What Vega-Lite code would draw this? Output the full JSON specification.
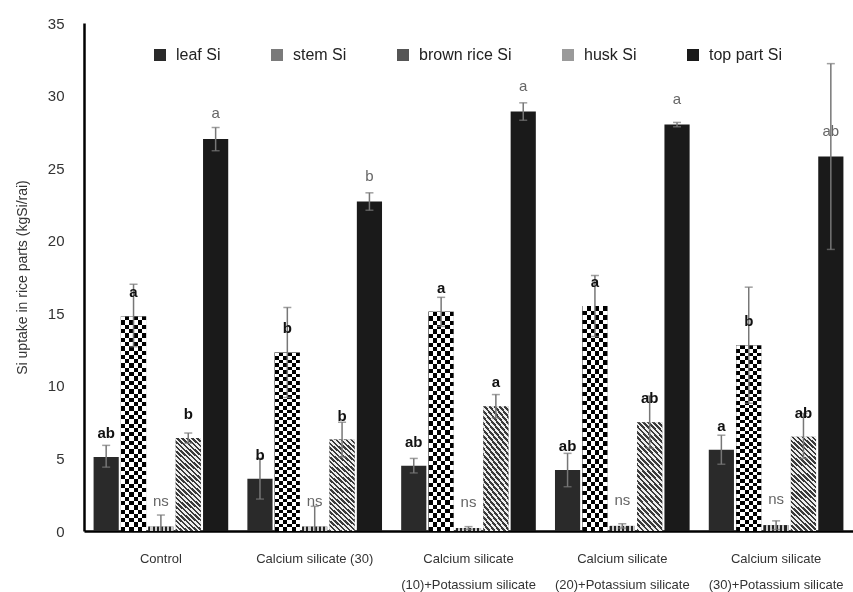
{
  "$schema": "https://vega.github.io/schema/vega-lite/v6.json",
  "width": 769,
  "height": 508,
  "autosize": {"type": "none"},
  "padding": {"left": 84, "top": 23, "right": 0, "bottom": 61},
  "config": {"font": "Liberation Sans", "view": {"stroke": null}},
  "data": {"values": [
    {"g": "Control", "p": "leaf Si", "v": 5.1, "lo": 4.4, "hi": 5.9, "s": "ab"},
    {"g": "Control", "p": "stem Si", "v": 14.8, "lo": 12.7, "hi": 17.0, "s": "a"},
    {"g": "Control", "p": "brown rice Si", "v": 0.3, "lo": 0.0, "hi": 1.1, "s": "ns"},
    {"g": "Control", "p": "husk Si", "v": 6.4, "lo": 6.05, "hi": 6.75, "s": "b"},
    {"g": "Control", "p": "top part Si", "v": 27.0, "lo": 26.2, "hi": 27.8, "s": "a"},
    {"g": "Calcium silicate (30)", "p": "leaf Si", "v": 3.6, "lo": 2.2, "hi": 5.0, "s": "b"},
    {"g": "Calcium silicate (30)", "p": "stem Si", "v": 12.3, "lo": 9.2, "hi": 15.4, "s": "b"},
    {"g": "Calcium silicate (30)", "p": "brown rice Si", "v": 0.3, "lo": 0.0, "hi": 1.7, "s": "ns"},
    {"g": "Calcium silicate (30)", "p": "husk Si", "v": 6.3, "lo": 5.1, "hi": 7.5, "s": "b"},
    {"g": "Calcium silicate (30)", "p": "top part Si", "v": 22.7, "lo": 22.1, "hi": 23.3, "s": "b"},
    {"g": "Calcium silicate (10)+Potassium silicate", "p": "leaf Si", "v": 4.5, "lo": 4.0, "hi": 5.0, "s": "ab"},
    {"g": "Calcium silicate (10)+Potassium silicate", "p": "stem Si", "v": 15.1, "lo": 14.1, "hi": 16.1, "s": "a"},
    {"g": "Calcium silicate (10)+Potassium silicate", "p": "brown rice Si", "v": 0.2, "lo": 0.1, "hi": 0.3, "s": "ns"},
    {"g": "Calcium silicate (10)+Potassium silicate", "p": "husk Si", "v": 8.6, "lo": 7.8, "hi": 9.4, "s": "a"},
    {"g": "Calcium silicate (10)+Potassium silicate", "p": "top part Si", "v": 28.9, "lo": 28.3, "hi": 29.5, "s": "a"},
    {"g": "Calcium silicate (20)+Potassium silicate", "p": "leaf Si", "v": 4.2, "lo": 3.05, "hi": 5.35, "s": "ab"},
    {"g": "Calcium silicate (20)+Potassium silicate", "p": "stem Si", "v": 15.5, "lo": 13.4, "hi": 17.6, "s": "a"},
    {"g": "Calcium silicate (20)+Potassium silicate", "p": "brown rice Si", "v": 0.35, "lo": 0.2, "hi": 0.5, "s": "ns"},
    {"g": "Calcium silicate (20)+Potassium silicate", "p": "husk Si", "v": 7.5, "lo": 5.7, "hi": 9.3, "s": "ab"},
    {"g": "Calcium silicate (20)+Potassium silicate", "p": "top part Si", "v": 28.0, "lo": 27.85, "hi": 28.15, "s": "a"},
    {"g": "Calcium silicate (30)+Potassium silicate", "p": "leaf Si", "v": 5.6, "lo": 4.6, "hi": 6.6, "s": "a"},
    {"g": "Calcium silicate (30)+Potassium silicate", "p": "stem Si", "v": 12.8, "lo": 8.8, "hi": 16.8, "s": "b"},
    {"g": "Calcium silicate (30)+Potassium silicate", "p": "brown rice Si", "v": 0.4, "lo": 0.1, "hi": 0.7, "s": "ns"},
    {"g": "Calcium silicate (30)+Potassium silicate", "p": "husk Si", "v": 6.5, "lo": 5.0, "hi": 8.1, "s": "ab"},
    {"g": "Calcium silicate (30)+Potassium silicate", "p": "top part Si", "v": 25.8, "lo": 19.4, "hi": 32.2, "s": "ab"}
  ]},
  "encoding": {
    "x": {"field": "g", "type": "nominal",
      "scale": {"domain": ["Control", "Calcium silicate (30)", "Calcium silicate (10)+Potassium silicate", "Calcium silicate (20)+Potassium silicate", "Calcium silicate (30)+Potassium silicate"], "paddingInner": 0, "paddingOuter": 0},
      "axis": {"title": null, "labelAngle": 0, "ticks": false, "domainColor": "#000", "domainWidth": 2.5, "labelFontSize": 13, "labelColor": "#333", "labelPadding": 21, "labelLineHeight": 26, "labelLimit": 0, "labelOverlap": false,
        "labelExpr": "indexof(datum.label, '+') > 0 ? ['Calcium silicate', substring(datum.label, 17)] : datum.label"}},
    "xOffset": {"field": "p", "type": "nominal",
      "scale": {"domain": ["leaf Si", "stem Si", "brown rice Si", "husk Si", "top part Si"], "paddingInner": 0.08, "paddingOuter": 0.35}}
  },
  "layer": [
    {
      "mark": {"type": "bar"},
      "encoding": {
        "y": {"field": "v", "type": "quantitative",
          "scale": {"domain": [0, 35], "nice": false},
          "axis": {"values": [0, 5, 10, 15, 20, 25, 30, 35], "grid": false, "ticks": false, "domainColor": "#000", "domainWidth": 2.5, "labelFontSize": 15, "labelColor": "#333", "labelPadding": 20,
            "title": "Si uptake in rice parts (kgSi/rai)", "titleFontSize": 14, "titleFontWeight": "normal", "titleColor": "#333", "titlePadding": 18}},
        "color": {"field": "p", "type": "nominal",
          "scale": {"domain": ["leaf Si", "stem Si", "brown rice Si", "husk Si", "top part Si"], "range": ["#2a2a2a", "#7a7a7a", "#555555", "#9a9a9a", "#1a1a1a"]},
          "legend": {"title": null, "orient": "none", "legendX": 68, "legendY": 24, "direction": "horizontal", "columns": 5, "columnPadding": 48, "symbolType": "square", "symbolSize": 144, "symbolStrokeWidth": 0, "labelFontSize": 16, "labelColor": "#222", "labelOffset": 8}}
      }
    },
    {
      "transform": [{"filter": "datum.p == 'stem Si'"}],
      "mark": {"type": "bar", "fill": {"gradient": "linear", "x1": 0, "y1": 0, "x2": 1, "y2": 0, "stops": [
        {"offset": 0, "color": "#000"}, {"offset": 0.1667, "color": "#000"}, {"offset": 0.1667, "color": "#fff"}, {"offset": 0.3333, "color": "#fff"},
        {"offset": 0.3333, "color": "#000"}, {"offset": 0.5, "color": "#000"}, {"offset": 0.5, "color": "#fff"}, {"offset": 0.6667, "color": "#fff"},
        {"offset": 0.6667, "color": "#000"}, {"offset": 0.8333, "color": "#000"}, {"offset": 0.8333, "color": "#fff"}, {"offset": 1, "color": "#fff"}]}},
      "encoding": {"y": {"field": "v", "type": "quantitative"}}
    },
    {
      "transform": [{"filter": "datum.p == 'stem Si'"}],
      "mark": {"type": "bar", "blend": "difference", "fill": {"gradient": "linear", "x1": 0, "y1": 0, "x2": 0, "y2": 1, "stops": [
        {"offset": 0, "color": "#fff"}, {"offset": 0.02, "color": "#fff"}, {"offset": 0.02, "color": "#000"}, {"offset": 0.04, "color": "#000"},
        {"offset": 0.04, "color": "#fff"}, {"offset": 0.06, "color": "#fff"}, {"offset": 0.06, "color": "#000"}, {"offset": 0.08, "color": "#000"},
        {"offset": 0.08, "color": "#fff"}, {"offset": 0.10, "color": "#fff"}, {"offset": 0.10, "color": "#000"}, {"offset": 0.12, "color": "#000"},
        {"offset": 0.12, "color": "#fff"}, {"offset": 0.14, "color": "#fff"}, {"offset": 0.14, "color": "#000"}, {"offset": 0.16, "color": "#000"},
        {"offset": 0.16, "color": "#fff"}, {"offset": 0.18, "color": "#fff"}, {"offset": 0.18, "color": "#000"}, {"offset": 0.20, "color": "#000"},
        {"offset": 0.20, "color": "#fff"}, {"offset": 0.22, "color": "#fff"}, {"offset": 0.22, "color": "#000"}, {"offset": 0.24, "color": "#000"},
        {"offset": 0.24, "color": "#fff"}, {"offset": 0.26, "color": "#fff"}, {"offset": 0.26, "color": "#000"}, {"offset": 0.28, "color": "#000"},
        {"offset": 0.28, "color": "#fff"}, {"offset": 0.30, "color": "#fff"}, {"offset": 0.30, "color": "#000"}, {"offset": 0.32, "color": "#000"},
        {"offset": 0.32, "color": "#fff"}, {"offset": 0.34, "color": "#fff"}, {"offset": 0.34, "color": "#000"}, {"offset": 0.36, "color": "#000"},
        {"offset": 0.36, "color": "#fff"}, {"offset": 0.38, "color": "#fff"}, {"offset": 0.38, "color": "#000"}, {"offset": 0.40, "color": "#000"},
        {"offset": 0.40, "color": "#fff"}, {"offset": 0.42, "color": "#fff"}, {"offset": 0.42, "color": "#000"}, {"offset": 0.44, "color": "#000"},
        {"offset": 0.44, "color": "#fff"}, {"offset": 0.46, "color": "#fff"}, {"offset": 0.46, "color": "#000"}, {"offset": 0.48, "color": "#000"},
        {"offset": 0.48, "color": "#fff"}, {"offset": 0.50, "color": "#fff"}, {"offset": 0.50, "color": "#000"}, {"offset": 0.52, "color": "#000"},
        {"offset": 0.52, "color": "#fff"}, {"offset": 0.54, "color": "#fff"}, {"offset": 0.54, "color": "#000"}, {"offset": 0.56, "color": "#000"},
        {"offset": 0.56, "color": "#fff"}, {"offset": 0.58, "color": "#fff"}, {"offset": 0.58, "color": "#000"}, {"offset": 0.60, "color": "#000"},
        {"offset": 0.60, "color": "#fff"}, {"offset": 0.62, "color": "#fff"}, {"offset": 0.62, "color": "#000"}, {"offset": 0.64, "color": "#000"},
        {"offset": 0.64, "color": "#fff"}, {"offset": 0.66, "color": "#fff"}, {"offset": 0.66, "color": "#000"}, {"offset": 0.68, "color": "#000"},
        {"offset": 0.68, "color": "#fff"}, {"offset": 0.70, "color": "#fff"}, {"offset": 0.70, "color": "#000"}, {"offset": 0.72, "color": "#000"},
        {"offset": 0.72, "color": "#fff"}, {"offset": 0.74, "color": "#fff"}, {"offset": 0.74, "color": "#000"}, {"offset": 0.76, "color": "#000"},
        {"offset": 0.76, "color": "#fff"}, {"offset": 0.78, "color": "#fff"}, {"offset": 0.78, "color": "#000"}, {"offset": 0.80, "color": "#000"},
        {"offset": 0.80, "color": "#fff"}, {"offset": 0.82, "color": "#fff"}, {"offset": 0.82, "color": "#000"}, {"offset": 0.84, "color": "#000"},
        {"offset": 0.84, "color": "#fff"}, {"offset": 0.86, "color": "#fff"}, {"offset": 0.86, "color": "#000"}, {"offset": 0.88, "color": "#000"},
        {"offset": 0.88, "color": "#fff"}, {"offset": 0.90, "color": "#fff"}, {"offset": 0.90, "color": "#000"}, {"offset": 0.92, "color": "#000"},
        {"offset": 0.92, "color": "#fff"}, {"offset": 0.94, "color": "#fff"}, {"offset": 0.94, "color": "#000"}, {"offset": 0.96, "color": "#000"},
        {"offset": 0.96, "color": "#fff"}, {"offset": 0.98, "color": "#fff"}, {"offset": 0.98, "color": "#000"}, {"offset": 1, "color": "#000"}]}},
      "encoding": {"y": {"field": "v", "type": "quantitative"}}
    },
    {
      "transform": [{"filter": "datum.p == 'brown rice Si'"}],
      "mark": {"type": "bar", "fill": {"gradient": "linear", "x1": 0, "y1": 0, "x2": 1, "y2": 0, "stops": [
        {"offset": 0, "color": "#222"}, {"offset": 0.0833, "color": "#222"}, {"offset": 0.0833, "color": "#ccc"}, {"offset": 0.1667, "color": "#ccc"},
        {"offset": 0.1667, "color": "#222"}, {"offset": 0.25, "color": "#222"}, {"offset": 0.25, "color": "#ccc"}, {"offset": 0.3333, "color": "#ccc"},
        {"offset": 0.3333, "color": "#222"}, {"offset": 0.4167, "color": "#222"}, {"offset": 0.4167, "color": "#ccc"}, {"offset": 0.5, "color": "#ccc"},
        {"offset": 0.5, "color": "#222"}, {"offset": 0.5833, "color": "#222"}, {"offset": 0.5833, "color": "#ccc"}, {"offset": 0.6667, "color": "#ccc"},
        {"offset": 0.6667, "color": "#222"}, {"offset": 0.75, "color": "#222"}, {"offset": 0.75, "color": "#ccc"}, {"offset": 0.8333, "color": "#ccc"},
        {"offset": 0.8333, "color": "#222"}, {"offset": 0.9167, "color": "#222"}, {"offset": 0.9167, "color": "#ccc"}, {"offset": 1, "color": "#ccc"}]}},
      "encoding": {"y": {"field": "v", "type": "quantitative"}}
    },
    {
      "transform": [{"filter": "datum.p == 'husk Si'"}],
      "mark": {"type": "bar", "fill": {"gradient": "linear", "x1": 0, "y1": 1, "x2": 0.294, "y2": -0.176, "stops": [
        {"offset": 0, "color": "#3a3a3a"}, {"offset": 0.02, "color": "#3a3a3a"}, {"offset": 0.02, "color": "#eee"}, {"offset": 0.04, "color": "#eee"},
        {"offset": 0.04, "color": "#3a3a3a"}, {"offset": 0.06, "color": "#3a3a3a"}, {"offset": 0.06, "color": "#eee"}, {"offset": 0.08, "color": "#eee"},
        {"offset": 0.08, "color": "#3a3a3a"}, {"offset": 0.10, "color": "#3a3a3a"}, {"offset": 0.10, "color": "#eee"}, {"offset": 0.12, "color": "#eee"},
        {"offset": 0.12, "color": "#3a3a3a"}, {"offset": 0.14, "color": "#3a3a3a"}, {"offset": 0.14, "color": "#eee"}, {"offset": 0.16, "color": "#eee"},
        {"offset": 0.16, "color": "#3a3a3a"}, {"offset": 0.18, "color": "#3a3a3a"}, {"offset": 0.18, "color": "#eee"}, {"offset": 0.20, "color": "#eee"},
        {"offset": 0.20, "color": "#3a3a3a"}, {"offset": 0.22, "color": "#3a3a3a"}, {"offset": 0.22, "color": "#eee"}, {"offset": 0.24, "color": "#eee"},
        {"offset": 0.24, "color": "#3a3a3a"}, {"offset": 0.26, "color": "#3a3a3a"}, {"offset": 0.26, "color": "#eee"}, {"offset": 0.28, "color": "#eee"},
        {"offset": 0.28, "color": "#3a3a3a"}, {"offset": 0.30, "color": "#3a3a3a"}, {"offset": 0.30, "color": "#eee"}, {"offset": 0.32, "color": "#eee"},
        {"offset": 0.32, "color": "#3a3a3a"}, {"offset": 0.34, "color": "#3a3a3a"}, {"offset": 0.34, "color": "#eee"}, {"offset": 0.36, "color": "#eee"},
        {"offset": 0.36, "color": "#3a3a3a"}, {"offset": 0.38, "color": "#3a3a3a"}, {"offset": 0.38, "color": "#eee"}, {"offset": 0.40, "color": "#eee"},
        {"offset": 0.40, "color": "#3a3a3a"}, {"offset": 0.42, "color": "#3a3a3a"}, {"offset": 0.42, "color": "#eee"}, {"offset": 0.44, "color": "#eee"},
        {"offset": 0.44, "color": "#3a3a3a"}, {"offset": 0.46, "color": "#3a3a3a"}, {"offset": 0.46, "color": "#eee"}, {"offset": 0.48, "color": "#eee"},
        {"offset": 0.48, "color": "#3a3a3a"}, {"offset": 0.50, "color": "#3a3a3a"}, {"offset": 0.50, "color": "#eee"}, {"offset": 0.52, "color": "#eee"},
        {"offset": 0.52, "color": "#3a3a3a"}, {"offset": 0.54, "color": "#3a3a3a"}, {"offset": 0.54, "color": "#eee"}, {"offset": 0.56, "color": "#eee"},
        {"offset": 0.56, "color": "#3a3a3a"}, {"offset": 0.58, "color": "#3a3a3a"}, {"offset": 0.58, "color": "#eee"}, {"offset": 0.60, "color": "#eee"},
        {"offset": 0.60, "color": "#3a3a3a"}, {"offset": 0.62, "color": "#3a3a3a"}, {"offset": 0.62, "color": "#eee"}, {"offset": 0.64, "color": "#eee"},
        {"offset": 0.64, "color": "#3a3a3a"}, {"offset": 0.66, "color": "#3a3a3a"}, {"offset": 0.66, "color": "#eee"}, {"offset": 0.68, "color": "#eee"},
        {"offset": 0.68, "color": "#3a3a3a"}, {"offset": 0.70, "color": "#3a3a3a"}, {"offset": 0.70, "color": "#eee"}, {"offset": 0.72, "color": "#eee"},
        {"offset": 0.72, "color": "#3a3a3a"}, {"offset": 0.74, "color": "#3a3a3a"}, {"offset": 0.74, "color": "#eee"}, {"offset": 0.76, "color": "#eee"},
        {"offset": 0.76, "color": "#3a3a3a"}, {"offset": 0.78, "color": "#3a3a3a"}, {"offset": 0.78, "color": "#eee"}, {"offset": 0.80, "color": "#eee"},
        {"offset": 0.80, "color": "#3a3a3a"}, {"offset": 0.82, "color": "#3a3a3a"}, {"offset": 0.82, "color": "#eee"}, {"offset": 0.84, "color": "#eee"},
        {"offset": 0.84, "color": "#3a3a3a"}, {"offset": 0.86, "color": "#3a3a3a"}, {"offset": 0.86, "color": "#eee"}, {"offset": 0.88, "color": "#eee"},
        {"offset": 0.88, "color": "#3a3a3a"}, {"offset": 0.90, "color": "#3a3a3a"}, {"offset": 0.90, "color": "#eee"}, {"offset": 0.92, "color": "#eee"},
        {"offset": 0.92, "color": "#3a3a3a"}, {"offset": 0.94, "color": "#3a3a3a"}, {"offset": 0.94, "color": "#eee"}, {"offset": 0.96, "color": "#eee"},
        {"offset": 0.96, "color": "#3a3a3a"}, {"offset": 0.98, "color": "#3a3a3a"}, {"offset": 0.98, "color": "#eee"}, {"offset": 1, "color": "#eee"}]}},
      "encoding": {"y": {"field": "v", "type": "quantitative"}}
    },
    {
      "mark": {"type": "rule", "color": "#777", "strokeWidth": 1.5},
      "encoding": {"y": {"field": "lo", "type": "quantitative"}, "y2": {"field": "hi"}}
    },
    {
      "mark": {"type": "tick", "color": "#777", "size": 8, "thickness": 1.5},
      "encoding": {"y": {"field": "hi", "type": "quantitative"}}
    },
    {
      "transform": [{"filter": "datum.lo > 0"}],
      "mark": {"type": "tick", "color": "#777", "size": 8, "thickness": 1.5},
      "encoding": {"y": {"field": "lo", "type": "quantitative"}}
    },
    {
      "transform": [{"filter": "datum.p != 'top part Si' && datum.p != 'brown rice Si'"}],
      "mark": {"type": "text", "baseline": "middle", "dy": -24, "fontSize": 15, "fontWeight": "bold", "color": "#111"},
      "encoding": {"y": {"field": "v", "type": "quantitative"}, "text": {"field": "s"}}
    },
    {
      "transform": [{"filter": "datum.p == 'top part Si' || datum.p == 'brown rice Si'"}],
      "mark": {"type": "text", "baseline": "middle", "dy": -26, "fontSize": 15, "color": "#666"},
      "encoding": {"y": {"field": "v", "type": "quantitative"}, "text": {"field": "s"}}
    }
  ]
}
